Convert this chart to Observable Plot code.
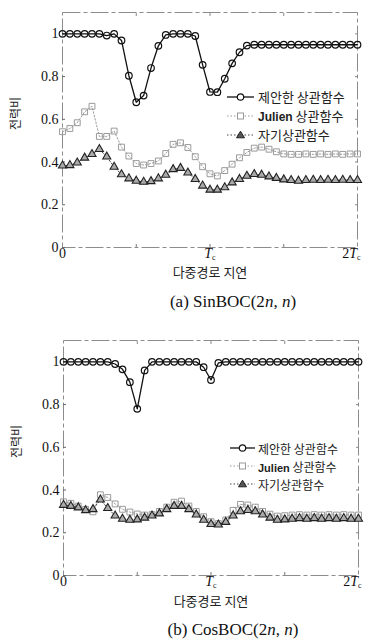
<!DOCTYPE html>
<html><head><meta charset="utf-8">
<script src="https://cdn.jsdelivr.net/npm/d3@7"></script>
<script src="https://cdn.jsdelivr.net/npm/@observablehq/plot@0.6"></script>
<style>
body{margin:0;background:#fff;width:371px;overflow:hidden;}
.fig{position:relative;width:371px;height:285px;}
.fig svg{display:block;}
.cap{width:371px;box-sizing:border-box;padding-left:95px;text-align:center;font-family:"Liberation Serif",serif;font-size:17px;color:#111;white-space:nowrap;}
.legend{position:absolute;font-family:"Noto Sans CJK KR",sans-serif;color:#222;}
.row{display:flex;align-items:center;white-space:nowrap;}
.row svg{display:block;}
.jul{font-family:"Liberation Sans",Arial,sans-serif;font-weight:bold;}
</style></head><body>
<div id="figA" class="fig"></div>
<div class="cap" style="height:43px;line-height:34px;">(a) SinBOC(2<i>n</i>, <i>n</i>)</div>
<div id="figB" class="fig"></div>
<div class="cap" style="height:27px;line-height:33px;">(b) CosBOC(2<i>n</i>, <i>n</i>)</div>
<script>
// multipath delay in units of Tc
const delay = [0,0.05,0.1,0.15,0.2,0.25,0.3,0.35,0.4,0.45,0.5,0.55,0.6,0.65,0.7,0.75,0.8,0.85,0.9,0.95,1,1.05,1.1,1.15,1.2,1.25,1.3,1.35,1.4,1.45,1.5,1.55,1.6,1.65,1.7,1.75,1.8,1.85,1.9,1.95,2];

const seriesNames = ["제안한 상관함수", "Julien 상관함수", "자기상관함수"];
const yLabel = "전력비";
const xLabel = "다중경로 지연";
const yTicks = [0, 0.2, 0.4, 0.6, 0.8, 1];
const xTicks = [0, 1, 2];
const xTickLabels = ["0", "T", "2T"];
const xMinorTicks = [0.5, 1, 1.5];

// (a) SinBOC(2n, n)
const sinProposed = [1,1,1,1,1,1,0.992,1,0.969,0.804,0.68,0.711,0.84,0.944,0.995,1,1,1,0.99,0.855,0.728,0.727,0.79,0.862,0.914,0.945,0.949,0.949,0.949,0.949,0.949,0.949,0.949,0.949,0.949,0.949,0.949,0.949,0.949,0.949,0.949];
const sinJulien = [0.542,0.557,0.584,0.635,0.661,0.52,0.52,0.545,0.47,0.428,0.393,0.386,0.393,0.405,0.44,0.483,0.49,0.468,0.425,0.378,0.345,0.335,0.36,0.39,0.42,0.445,0.465,0.47,0.46,0.448,0.438,0.436,0.436,0.438,0.436,0.438,0.436,0.438,0.436,0.438,0.438];
const sinAuto = [0.383,0.385,0.397,0.42,0.437,0.46,0.425,0.377,0.342,0.323,0.312,0.307,0.31,0.323,0.34,0.366,0.372,0.35,0.32,0.289,0.27,0.27,0.281,0.304,0.32,0.335,0.343,0.34,0.332,0.325,0.318,0.315,0.312,0.315,0.316,0.315,0.316,0.315,0.316,0.315,0.315];

// (b) CosBOC(2n, n)
const cosProposed = [1,1,1,1,1,1,1,0.99,0.965,0.905,0.78,0.96,1,1,1,1,1,1,1,0.975,0.915,0.995,1,1,1,1,1,1,1,1,1,1,1,1,1,1,1,1,1,1,1];
const cosJulien = [0.345,0.338,0.325,0.31,0.298,0.378,0.365,0.335,0.31,0.297,0.288,0.283,0.285,0.3,0.32,0.343,0.348,0.325,0.3,0.275,0.252,0.243,0.26,0.305,0.333,0.33,0.32,0.3,0.287,0.278,0.28,0.283,0.285,0.283,0.285,0.283,0.285,0.283,0.285,0.283,0.283];
const cosAuto = [0.33,0.325,0.318,0.305,0.31,0.355,0.315,0.28,0.265,0.26,0.262,0.27,0.28,0.29,0.31,0.325,0.325,0.31,0.285,0.26,0.24,0.238,0.25,0.28,0.3,0.306,0.3,0.285,0.27,0.26,0.262,0.265,0.268,0.265,0.268,0.265,0.268,0.265,0.268,0.265,0.265];

const KR = '"Noto Sans CJK KR", sans-serif';
const fmtY = d => String(+d.toFixed(1));
const blank = () => "";

function chart(el, s, o) {
  const rows = delay.map((d, i) => ({x: d, p: s.proposed[i], j: s.julien[i], a: s.auto[i]}));
  const svg = Plot.plot({
    width: 371, height: 285,
    marginLeft: o.ml, marginRight: o.mr, marginTop: 12, marginBottom: 38,
    x: {domain: [0, 2]},
    y: {domain: [0, 1.1]},
    style: {fontFamily: '"Liberation Serif", serif', fontSize: "14px", color: "#111", background: "#fff", overflow: "visible"},
    marks: [
      Plot.frame({stroke: "#8c8c8c", strokeWidth: 1, strokeDasharray: "18,3,4,3"}),
      Plot.axisY({ticks: yTicks, tickSize: 0, tickPadding: 4, tickFormat: fmtY, label: null}),
      Plot.axisY({ticks: yTicks, tickSize: 3, dx: 3, tickFormat: blank, label: null, stroke: "#666"}),
      Plot.axisY({anchor: "right", ticks: yTicks.slice(1), tickSize: 3, dx: -3, tickFormat: blank, label: null, stroke: "#888"}),
      Plot.axisX({ticks: xTicks, tickSize: 0, tickPadding: 1, tickFormat: d => xTickLabels[xTicks.indexOf(d)], label: null}),
      Plot.axisX({ticks: xMinorTicks, tickSize: 3, dy: -3, tickFormat: blank, label: null, stroke: "#777"}),
      Plot.axisX({anchor: "top", ticks: xMinorTicks, tickSize: 3, dy: 3, tickFormat: blank, label: null, stroke: "#888"}),
      Plot.line(rows, {x: "x", y: "j", stroke: "#9a9a9a", strokeWidth: 1, strokeDasharray: "1.5,2"}),
      Plot.dot(rows, {x: "x", y: "j", symbol: "square", r: 3.3, stroke: "#9a9a9a", strokeWidth: 1, fill: "none"}),
      Plot.line(rows, {x: "x", y: "a", stroke: "#444", strokeWidth: 1, strokeDasharray: "1.5,2"}),
      Plot.dot(rows, {x: "x", y: "a", symbol: "triangle", r: 3, stroke: "#222", strokeWidth: 1.1, fill: "#aaa"}),
      Plot.line(rows, {x: "x", y: "p", stroke: "#111", strokeWidth: 1.3}),
      Plot.dot(rows, {x: "x", y: "p", symbol: "circle", r: 3.3, stroke: "#111", strokeWidth: 1.2, fill: "none"}),
      Plot.text([yLabel], {text: d => d, frameAnchor: "left", rotate: -90, dx: -46, fontFamily: KR, fontSize: 12, fill: "#222"}),
      Plot.text([xLabel], {text: d => d, frameAnchor: "bottom", dy: o.xl, fontFamily: KR, fontSize: 13, fill: "#222"})
    ]
  });
  svg.querySelectorAll('g[aria-label="x-axis tick label"] text').forEach(t => {
    const v = t.textContent;
    const sub = '<tspan font-style="italic">T</tspan><tspan font-size="8" dy="2">c</tspan>';
    if (v === "T") t.innerHTML = sub;
    else if (v === "2T") { t.innerHTML = "2" + sub; t.setAttribute("text-anchor", "end"); t.setAttribute("dx", "3"); }
  });
  el.appendChild(svg);

  const lg = document.createElement("div");
  lg.className = "legend";
  lg.style.left = o.lgLeft + "px";
  lg.style.top = o.lgTop + "px";
  lg.style.fontSize = o.lgFs + "px";
  const w = o.swW, c = w / 2;
  const swatches = [
    `<line x1="0" x2="${w}" y1="6" y2="6" stroke="#111" stroke-width="1.3"/><circle cx="${c}" cy="6" r="3.2" fill="#fff" stroke="#111" stroke-width="1.2"/>`,
    `<line x1="0" x2="${w}" y1="6" y2="6" stroke="#9a9a9a" stroke-width="1" stroke-dasharray="1.5,2"/><rect x="${c-3}" y="3" width="6" height="6" fill="#fff" stroke="#9a9a9a"/>`,
    `<line x1="0" x2="${w}" y1="6" y2="6" stroke="#444" stroke-width="1" stroke-dasharray="1.5,2"/><path d="M${c},2.2L${c+4},8.8L${c-4},8.8Z" fill="#555" stroke="#222"/>`
  ];
  seriesNames.forEach((name, k) => {
    const r = document.createElement("div");
    r.className = "row";
    r.style.height = o.lgRow + "px";
    const label = name.startsWith("Julien") ? `<span class="jul" style="font-size:${o.lgFs - 1}px">Julien</span>&nbsp;${name.slice(7)}` : name;
    r.innerHTML = `<svg width="${w}" height="12">${swatches[k]}</svg><span style="margin-left:${o.gap}px">${label}</span>`;
    lg.appendChild(r);
  });
  el.appendChild(lg);
}

chart(document.getElementById("figA"), {proposed: sinProposed, julien: sinJulien, auto: sinAuto},
  {ml: 62, mr: 14, xl: 29, lgLeft: 227, lgTop: 87, lgRow: 19, lgFs: 13, swW: 27, gap: 4});
chart(document.getElementById("figB"), {proposed: cosProposed, julien: cosJulien, auto: cosAuto},
  {ml: 63, mr: 13, xl: 30, lgLeft: 230, lgTop: 111, lgRow: 18, lgFs: 12, swW: 25, gap: 3});
</script>
</body></html>
